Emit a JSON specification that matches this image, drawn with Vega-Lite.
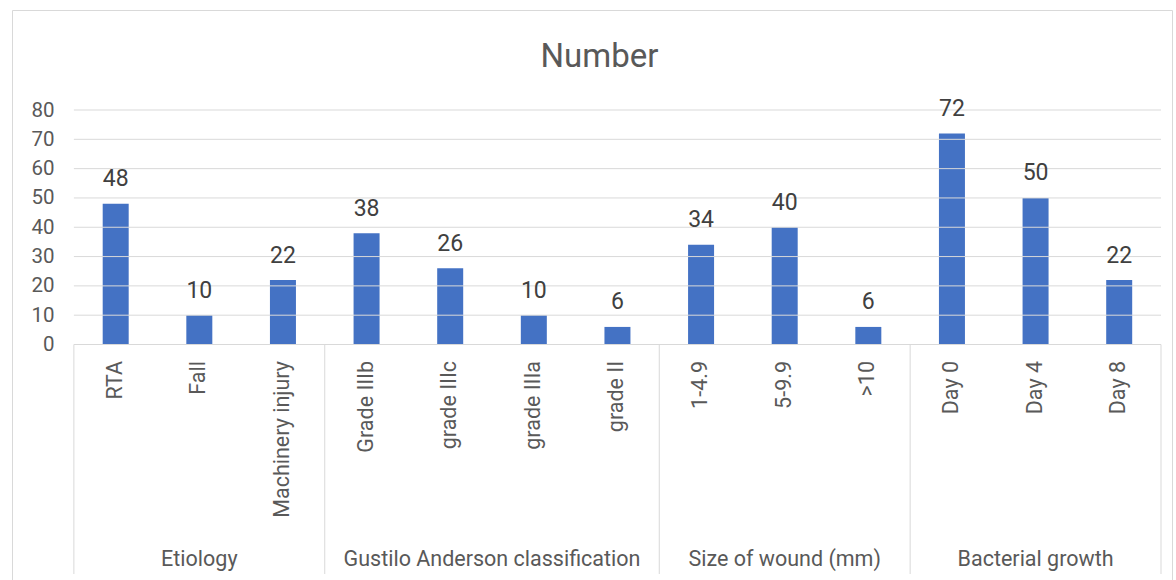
{
  "$schema": "https://vega.github.io/schema/vega-lite/v6.json",
  "width": 1160,
  "height": 572,
  "autosize": {"type": "none"},
  "padding": {"left": 12, "top": 10, "right": 4, "bottom": 0},
  "background": "white",
  "config": {"view": {"stroke": "#d9d9d9", "strokeWidth": 1}, "font": "Roboto"},
  "title": {"text": "Number", "fontSize": 33, "font": "Roboto", "fontWeight": "normal", "color": "#595959", "baseline": "alphabetic", "offset": -90, "dx": 7.5, "anchor": "middle"},
  "datasets": {
    "bars": [
      {"cat": "RTA", "group": "Etiology", "value": 48},
      {"cat": "Fall", "group": "Etiology", "value": 10},
      {"cat": "Machinery injury", "group": "Etiology", "value": 22},
      {"cat": "Grade IIIb", "group": "Gustilo Anderson classification", "value": 38},
      {"cat": "grade IIIc", "group": "Gustilo Anderson classification", "value": 26},
      {"cat": "grade IIIa", "group": "Gustilo Anderson classification", "value": 10},
      {"cat": "grade II", "group": "Gustilo Anderson classification", "value": 6},
      {"cat": "1-4.9", "group": "Size of wound (mm)", "value": 34},
      {"cat": "5-9.9", "group": "Size of wound (mm)", "value": 40},
      {"cat": ">10", "group": "Size of wound (mm)", "value": 6},
      {"cat": "Day 0", "group": "Bacterial growth", "value": 72},
      {"cat": "Day 4", "group": "Bacterial growth", "value": 50},
      {"cat": "Day 8", "group": "Bacterial growth", "value": 22}
    ],
    "groups": [
      {"group": "Etiology", "first": "RTA", "mid": "Fall", "last": "Machinery injury", "n": 3},
      {"group": "Gustilo Anderson classification", "first": "Grade IIIb", "mid": "grade IIIa", "last": "grade II", "n": 4},
      {"group": "Size of wound (mm)", "first": "1-4.9", "mid": "5-9.9", "last": ">10", "n": 3},
      {"group": "Bacterial growth", "first": "Day 0", "mid": "Day 4", "last": "Day 8", "n": 3}
    ],
    "grid": [{"t": 0}, {"t": 10}, {"t": 20}, {"t": 30}, {"t": 40}, {"t": 50}, {"t": 60}, {"t": 70}, {"t": 80}]
  },
  "layer": [
    {
      "data": {"name": "bars"},
      "mark": {"type": "bar", "color": "#4472C4"},
      "encoding": {
        "x": {
          "field": "cat", "type": "nominal", "sort": null,
          "scale": {
            "domain": ["RTA", "Fall", "Machinery injury", "Grade IIIb", "grade IIIc", "grade IIIa", "grade II", "1-4.9", "5-9.9", ">10", "Day 0", "Day 4", "Day 8"],
            "paddingInner": 0.6891, "paddingOuter": 0.78025, "align": 0.695, "round": false
          },
          "axis": {"orient": "bottom", "offset": -237.5, "domain": false, "ticks": false, "grid": false, "labelAngle": -90, "labelAlign": "right", "labelBaseline": "middle", "labelPadding": 16, "labelFontSize": 21.5, "labelFont": "Roboto", "labelColor": "#595959", "labelLimit": 400, "labelOverlap": false, "title": null}
        },
        "y": {
          "field": "value", "type": "quantitative",
          "scale": {"domain": [-81.02, 114.12], "nice": false, "zero": false},
          "axis": {"orient": "left", "offset": -62, "values": [0, 10, 20, 30, 40, 50, 60, 70, 80], "domain": false, "ticks": false, "grid": false, "labelPadding": 20, "labelFontSize": 20.5, "labelFont": "Roboto", "labelColor": "#595959", "title": null}
        },
        "y2": {"datum": 0}
      }
    },
    {
      "data": {"name": "grid"},
      "mark": {"type": "rule", "color": "#d9d9d9", "strokeWidth": 1},
      "encoding": {
        "y": {"field": "t", "type": "quantitative"},
        "x": {"datum": "RTA", "type": "nominal", "bandPosition": -1.108},
        "x2": {"datum": "Day 8", "bandPosition": 2.108}
      }
    },
    {
      "data": {"name": "groups"},
      "mark": {"type": "rule", "color": "#d9d9d9", "strokeWidth": 1},
      "encoding": {
        "x": {"field": "first", "type": "nominal", "bandPosition": -1.108},
        "y": {"datum": 0, "type": "quantitative"},
        "y2": {"datum": -78.3}
      }
    },
    {
      "data": {"name": "groups"},
      "transform": [{"filter": "datum.group === 'Bacterial growth'"}],
      "mark": {"type": "rule", "color": "#d9d9d9", "strokeWidth": 1},
      "encoding": {
        "x": {"field": "last", "type": "nominal", "bandPosition": 2.108},
        "y": {"datum": 0, "type": "quantitative"},
        "y2": {"datum": -78.3}
      }
    },
    {
      "data": {"name": "bars"},
      "mark": {"type": "text", "baseline": "alphabetic", "dy": -17.5, "fontSize": 23, "font": "Roboto", "color": "#404040"},
      "encoding": {
        "x": {"field": "cat", "type": "nominal"},
        "y": {"field": "value", "type": "quantitative"},
        "text": {"field": "value", "type": "quantitative"}
      }
    },
    {
      "data": {"name": "groups"},
      "transform": [{"filter": "datum.n === 3"}],
      "mark": {"type": "text", "baseline": "alphabetic", "fontSize": 21.5, "font": "Roboto", "color": "#595959"},
      "encoding": {
        "x": {"field": "mid", "type": "nominal"},
        "y": {"datum": -75.5, "type": "quantitative"},
        "text": {"field": "group", "type": "nominal"}
      }
    },
    {
      "data": {"name": "groups"},
      "transform": [{"filter": "datum.n === 4"}],
      "mark": {"type": "text", "baseline": "alphabetic", "fontSize": 21.5, "font": "Roboto", "color": "#595959"},
      "encoding": {
        "x": {"field": "mid", "type": "nominal", "bandPosition": -1.108},
        "y": {"datum": -75.5, "type": "quantitative"},
        "text": {"field": "group", "type": "nominal"}
      }
    }
  ]
}
